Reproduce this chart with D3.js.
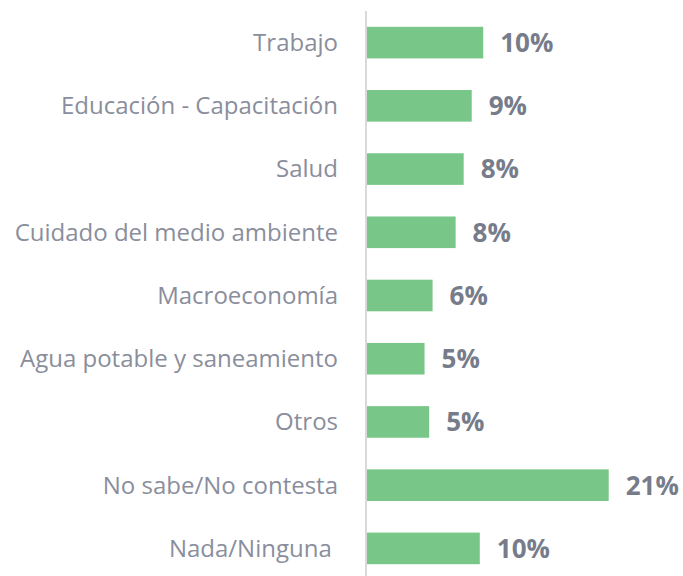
<!DOCTYPE html>
<html>
<head>
<meta charset="utf-8">
<script src="https://cdn.jsdelivr.net/npm/d3@7"></script>
<style>
    body { margin: 0; background: #fff; }
    svg { display: block; }
</style>
</head>
<body>
<div id="chart"></div>
<script>
    // 类别与数值
    const categories = [
        'Trabajo',
        'Educación - Capacitación',
        'Salud',
        'Cuidado del medio ambiente',
        'Macroeconomía',
        'Agua potable y saneamiento',
        'Otros',
        'No sabe/No contesta',
        'Nada/Ninguna '
    ];
    const values = [10.1, 9.1, 8.4, 7.7, 5.7, 5.0, 5.4, 21.0, 9.8];
    const valueLabels = ['10%', '9%', '8%', '8%', '6%', '5%', '5%', '21%', '10%'];

    const width = 683;
    const height = 576;
    const x0 = 367;

    const svg = d3.select('#chart')
        .append('svg')
        .attr('width', width)
        .attr('height', height);

    // 比例尺
    const x = d3.scaleLinear()
        .domain([0, 21])
        .range([x0, x0 + 241.7]);

    const y = d3.scaleBand()
        .domain(categories)
        .range([11, 580])
        .paddingInner(0.5)
        .paddingOuter(0.25);

    // 柱子
    svg.append('g')
        .selectAll('rect')
        .data(values)
        .join('rect')
        .attr('x', x(0))
        .attr('y', (d, i) => y(categories[i]))
        .attr('width', d => x(d) - x(0))
        .attr('height', y.bandwidth())
        .attr('fill', '#78C688');

    // 纵轴线
    svg.append('line')
        .attr('x1', 366).attr('x2', 366)
        .attr('y1', 11).attr('y2', height)
        .attr('stroke', '#D9D9D9')
        .attr('stroke-width', 2);

    // 类别标签
    svg.append('g')
        .selectAll('text')
        .data(categories)
        .join('text')
        .attr('x', 338)
        .attr('y', d => y(d) + y.bandwidth() / 2)
        .attr('dy', '0.35em')
        .attr('text-anchor', 'end')
        .attr('font-family', 'Open Sans, sans-serif')
        .attr('font-size', 24)
        .attr('fill', '#8A8E9C')
        .style('white-space', 'pre')
        .text(d => d);

    // 数值标签
    svg.append('g')
        .selectAll('text')
        .data(values)
        .join('text')
        .attr('x', d => x(d) + 17)
        .attr('y', (d, i) => y(categories[i]) + y.bandwidth() / 2)
        .attr('dy', '0.36em')
        .attr('font-family', 'Open Sans, sans-serif')
        .attr('font-weight', 'bold')
        .attr('font-size', 26)
        .attr('fill', '#777C8B')
        .text((d, i) => valueLabels[i]);
</script>
</body>
</html>
